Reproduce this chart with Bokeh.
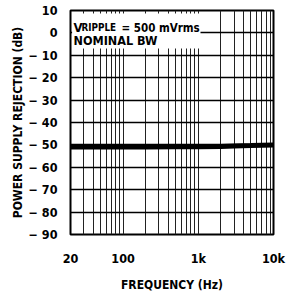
from bokeh.plotting import figure
from bokeh.models import FixedTicker, Label, BoxAnnotation, Range1d
from bokeh.embed import file_html
from bokeh.resources import INLINE

# data
freq = [20, 50, 100, 200, 500, 1000, 2000, 3000, 5000, 7000, 10000]
psr = [-50.9, -50.9, -50.9, -50.9, -50.85, -50.8, -50.7, -50.5, -50.3, -50.15, -50.0]

x_tick_vals = [20, 100, 1000, 10000]
x_tick_labels = ["20", "100", "1k", "10k"]
x_grid_vals = [20, 30, 40, 50, 60, 70, 80, 90, 100,
               200, 300, 400, 500, 600, 700, 800, 900, 1000,
               2000, 3000, 4000, 5000, 6000, 7000, 8000, 9000, 10000]
y_tick_vals = [10, 0, -10, -20, -30, -40, -50, -60, -70, -80, -90]
y_tick_labels = ["10", "0", "\u2212 10", "\u2212 20", "\u2212 30", "\u2212 40", "\u2212 50",
                 "\u2212 60", "\u2212 70", "\u2212 80", "\u2212 90"]

FONT = "DejaVu Sans Condensed"

p = figure(frame_width=203, frame_height=224, x_axis_type="log", output_backend="svg",
           toolbar_location=None, x_range=Range1d(20, 10000), y_range=Range1d(-90, 10),
           min_border_left=70, min_border_right=15, min_border_top=10, min_border_bottom=57)

p.outline_line_color = "black"
p.outline_line_width = 2
p.background_fill_color = "white"
p.border_fill_color = "white"

for ax in (p.xaxis[0], p.yaxis[0]):
    ax.axis_line_color = None
    ax.major_tick_line_color = None
    ax.minor_tick_line_color = None
    ax.major_label_text_font = FONT
    ax.major_label_text_font_style = "bold"
    ax.major_label_text_font_size = "12.5px"
    ax.major_label_text_color = "black"
    ax.axis_label_text_font = FONT
    ax.axis_label_text_font_style = "bold"
    ax.axis_label_text_font_size = "12px"
    ax.axis_label_text_color = "black"

p.xaxis.ticker = FixedTicker(ticks=x_tick_vals)
p.xaxis.major_label_overrides = {v: l for v, l in zip(x_tick_vals, x_tick_labels)}
p.xaxis.major_label_standoff = 10
p.xaxis.axis_label = "FREQUENCY (Hz)"
p.xaxis.axis_label_standoff = 9

p.yaxis.ticker = FixedTicker(ticks=y_tick_vals)
p.yaxis.major_label_overrides = {v: l for v, l in zip(y_tick_vals, y_tick_labels)}
p.yaxis.major_label_standoff = 7
p.yaxis.axis_label = "POWER SUPPLY REJECTION (dB)"
p.yaxis.axis_label_standoff = 1

p.xgrid.ticker = FixedTicker(ticks=x_grid_vals)
p.xgrid.grid_line_color = "#222222"
p.xgrid.grid_line_width = 1
p.xgrid.grid_line_alpha = 1
p.ygrid.ticker = FixedTicker(ticks=y_tick_vals)
p.ygrid.grid_line_color = "black"
p.ygrid.grid_line_width = 1.6
p.ygrid.grid_line_alpha = 1

p.line(freq, psr, line_color="black", line_width=5)

# annotation box covering grid in upper-left corner
p.add_layout(BoxAnnotation(left=21, right=1070, top=8.7, bottom=-7,
                           fill_color="white", fill_alpha=1.0, line_color=None,
                           level="overlay"))

def lab(x, y, t, size, xoff=0):
    p.add_layout(Label(x=x, y=y, text=t, x_offset=xoff,
                       text_font=FONT, text_font_size=size, text_font_style="bold",
                       text_color="black", text_baseline="alphabetic", level="overlay"))

lab(21.9, 2.4, "V", "13px")
lab(21.9, 2.4, "RIPPLE", "9.8px", 8)
lab(21.9, 2.4, "= 500 mVrms", "11.5px", 48)
lab(21.9, -3.4, "NOMINAL BW", "12.5px")

open("out.html", "w").write(file_html(p, INLINE))
